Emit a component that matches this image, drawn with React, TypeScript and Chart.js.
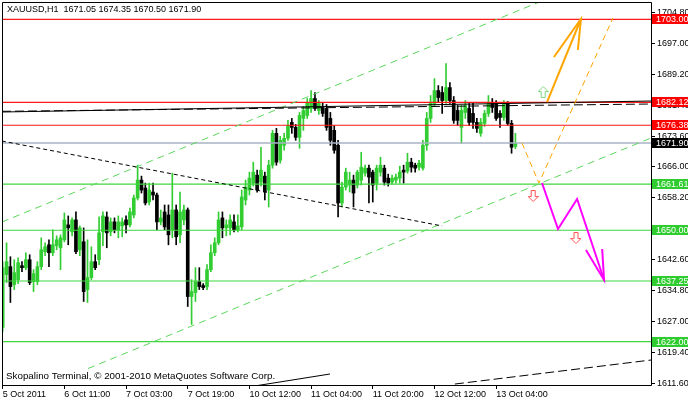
import React, { useEffect, useRef } from "react";
import { Chart, registerables } from "chart.js";

Chart.register(...registerables);

// ---------- DATA ----------
const symbol = "XAUUSD,H1";
const footerText = "Skopalino Terminal, \u00a9 2001-2010 MetaQuotes Software Corp.";

const xTickIndex = [0, 16, 32, 48, 64, 80, 96, 112, 128];
const xTickLabels = ["5 Oct 2011", "6 Oct 11:00", "7 Oct 03:00", "7 Oct 19:00", "10 Oct 12:00", "11 Oct 04:00", "11 Oct 20:00", "12 Oct 12:00", "13 Oct 04:00"];

const yTicks = [1611.6, 1619.4, 1627.0, 1634.8, 1642.6, 1650.4, 1658.2, 1666.0, 1673.6, 1681.4, 1689.2, 1697.0, 1704.8];

const open = [
  1625.6, 1638.85, 1640.85, 1636.35, 1637.6, 1641.1, 1640.6, 1642.6, 1637.1, 1637.1,
  1640.85, 1644.6, 1646.35, 1644.35, 1646.1, 1645.6, 1647.6, 1651.35, 1649.6, 1652.6,
  1645.1, 1647.1, 1635.1, 1638.1, 1642.1, 1642.6, 1649.6, 1653.35, 1649.6, 1652.1,
  1650.1, 1651.1, 1652.6, 1651.35, 1653.85, 1658.1, 1662.6, 1660.6, 1657.1, 1659.6,
  1658.85, 1652.1, 1654.6, 1653.85, 1650.1, 1655.1, 1648.85, 1652.6, 1655.1, 1633.35,
  1634.35, 1637.1, 1636.1, 1635.85, 1640.1, 1644.35, 1646.85, 1653.1, 1650.6, 1650.6,
  1652.1, 1650.1, 1650.85, 1657.6, 1660.1, 1661.85, 1663.85, 1662.1, 1663.6, 1660.1,
  1666.35, 1674.35, 1667.6, 1671.35, 1673.1, 1677.1, 1675.85, 1673.35, 1678.1, 1678.85,
  1680.6, 1683.1, 1680.1, 1680.85, 1680.6, 1678.1, 1675.1, 1671.35, 1656.85, 1660.85,
  1661.35, 1662.6, 1661.35, 1662.6, 1664.35, 1665.6, 1664.6, 1661.85, 1664.6, 1665.6,
  1663.1, 1662.1, 1662.6, 1663.1, 1665.1, 1664.85, 1667.1, 1666.35, 1665.85, 1665.6,
  1671.35, 1678.1, 1681.85, 1685.1, 1684.6, 1682.6, 1685.85, 1682.6, 1680.1, 1675.85,
  1679.6, 1680.6, 1679.35, 1677.1, 1674.35, 1676.85, 1679.35, 1682.1, 1681.85, 1679.35,
  1678.35, 1681.85, 1676.85, 1671.05
];
const high = [
  1642.1, 1646.85, 1643.35, 1642.6, 1643.1, 1642.1, 1644.35, 1643.85, 1640.1, 1642.1,
  1648.1, 1646.85, 1647.6, 1650.1, 1648.6, 1648.85, 1654.35, 1653.6, 1653.1, 1654.6,
  1651.1, 1650.6, 1647.6, 1645.85, 1643.85, 1653.35, 1654.6, 1654.6, 1653.1, 1653.1,
  1653.6, 1653.1, 1653.6, 1655.6, 1658.85, 1666.35, 1663.6, 1661.85, 1661.85, 1661.85,
  1659.35, 1655.1, 1656.35, 1656.35, 1664.35, 1656.35, 1659.6, 1656.35, 1655.6, 1637.6,
  1640.6, 1640.6, 1636.6, 1641.35, 1646.35, 1648.1, 1654.6, 1654.6, 1652.6, 1653.85,
  1653.85, 1653.85, 1660.1, 1662.6, 1664.6, 1667.1, 1665.1, 1670.85, 1664.6, 1667.6,
  1675.1, 1675.6, 1673.6, 1674.35, 1677.6, 1678.1, 1676.6, 1679.6, 1681.1, 1683.1,
  1685.1, 1684.6, 1682.6, 1682.1, 1681.6, 1679.6, 1676.35, 1672.6, 1662.1, 1665.6,
  1664.6, 1663.85, 1665.1, 1669.6, 1666.35, 1666.35, 1665.1, 1666.35, 1668.35, 1666.35,
  1664.1, 1663.85, 1664.1, 1666.1, 1666.35, 1669.35, 1668.1, 1666.85, 1667.6, 1672.6,
  1679.6, 1683.85, 1688.1, 1686.35, 1686.1, 1691.85, 1687.1, 1683.6, 1681.35, 1681.35,
  1682.6, 1681.85, 1682.1, 1678.1, 1678.1, 1680.1, 1683.85, 1683.1, 1682.6, 1680.1,
  1682.6, 1682.35, 1677.6, 1674.35
];
const low = [
  1624.6, 1636.85, 1631.85, 1635.1, 1636.6, 1639.6, 1640.1, 1636.35, 1634.6, 1636.35,
  1640.1, 1643.6, 1640.85, 1643.6, 1645.1, 1640.1, 1647.1, 1646.35, 1648.6, 1644.1,
  1643.6, 1632.1, 1631.85, 1637.6, 1640.1, 1641.35, 1646.1, 1645.6, 1648.6, 1649.35,
  1648.1, 1648.35, 1649.35, 1650.85, 1653.1, 1657.6, 1659.35, 1656.35, 1656.35, 1657.6,
  1650.1, 1651.35, 1650.1, 1646.35, 1648.1, 1646.35, 1646.85, 1651.35, 1630.85, 1626.35,
  1632.1, 1635.1, 1635.1, 1635.1, 1639.6, 1643.6, 1646.35, 1648.1, 1648.6, 1648.85,
  1649.6, 1649.6, 1650.1, 1656.35, 1658.85, 1661.1, 1659.6, 1661.1, 1657.6, 1655.85,
  1665.6, 1666.35, 1666.85, 1670.1, 1672.6, 1674.35, 1672.6, 1670.6, 1675.1, 1678.1,
  1679.6, 1680.1, 1679.1, 1678.6, 1675.1, 1671.35, 1669.35, 1653.35, 1655.85, 1660.1,
  1659.6, 1655.85, 1660.6, 1661.35, 1663.6, 1656.85, 1657.1, 1660.1, 1663.6, 1661.35,
  1661.1, 1661.6, 1661.85, 1661.85, 1661.85, 1664.35, 1664.6, 1664.6, 1665.1, 1665.1,
  1670.1, 1677.1, 1681.1, 1682.1, 1679.35, 1681.85, 1681.85, 1676.85, 1676.35, 1671.85,
  1678.1, 1676.35, 1675.6, 1674.6, 1673.6, 1676.1, 1678.6, 1679.6, 1677.6, 1675.85,
  1677.6, 1676.35, 1669.35, 1670.5
];
const close = [
  1640.6, 1642.1, 1635.85, 1639.35, 1641.85, 1640.6, 1642.6, 1636.85, 1639.1, 1640.85,
  1645.1, 1645.85, 1644.35, 1646.35, 1647.6, 1648.1, 1652.6, 1650.6, 1652.6, 1644.6,
  1650.6, 1634.6, 1638.1, 1642.1, 1640.6, 1649.35, 1653.6, 1649.35, 1652.1, 1650.1,
  1652.1, 1652.1, 1651.35, 1654.6, 1658.1, 1662.6, 1660.1, 1656.85, 1660.1, 1658.85,
  1652.1, 1653.1, 1650.85, 1648.85, 1655.1, 1648.35, 1654.6, 1655.1, 1633.35, 1634.6,
  1637.1, 1635.85, 1635.6, 1640.1, 1644.35, 1646.85, 1652.6, 1650.6, 1651.35, 1652.6,
  1650.1, 1651.1, 1658.35, 1660.85, 1663.1, 1664.6, 1660.1, 1665.1, 1659.6, 1666.35,
  1674.35, 1667.1, 1672.6, 1673.1, 1676.35, 1675.85, 1673.35, 1678.85, 1680.1, 1682.1,
  1683.1, 1680.6, 1681.85, 1679.35, 1675.85, 1672.6, 1670.1, 1656.85, 1660.85, 1664.6,
  1662.6, 1659.35, 1664.6, 1665.85, 1665.6, 1663.35, 1661.35, 1665.6, 1666.35, 1662.1,
  1661.85, 1663.1, 1663.35, 1664.6, 1664.6, 1667.1, 1665.85, 1665.6, 1666.85, 1671.35,
  1678.1, 1681.85, 1685.1, 1683.35, 1682.6, 1685.85, 1682.6, 1677.6, 1677.6, 1680.1,
  1681.35, 1677.1, 1677.1, 1675.6, 1677.1, 1679.35, 1681.85, 1680.85, 1678.1, 1678.35,
  1681.85, 1676.85, 1670.85, 1671.9
];

// horizontal levels
const resistanceLevels = [1703.0, 1682.12, 1676.38];
const supportLevels = [1661.61, 1650.0, 1637.25, 1622.0];
const bidLevel = 1671.9;

// trend objects: [bar index, price]
const blackTrendDown = [[-0.2, 1672.42], [114.0, 1651.07]];
const blackDashedResist = [[-0.2, 1679.88], [168.2, 1681.72]];
const blackSolidResist = [[-0.2, 1679.71], [168.2, 1682.47]];
const channelUpper = [[-0.2, 1652.07], [140, 1707.66]];
const channelLower = [[22.13, 1615.26], [168.2, 1673.19]];
const blackBottomSolid = [[66, 1610.97], [84.9, 1613.88]];
const blackBottomDashed = [[117.3, 1611.36], [168.2, 1617.4]];
const orangeSolid = [[141.2, 1682.22], [150.0, 1703.08]];
const orangeHead = [[143.0, 1693.53], [150.0, 1703.08], [149.2, 1695.29]];
const orangeDashed = [[134.7, 1671.92], [139.1, 1661.87], [158.3, 1703.33]];
const magentaPath = [[139.9, 1661.87], [144.05, 1650.31], [149.0, 1657.85], [156.0, 1637.5]];
const magentaHead = [[151.3, 1645.03], [156.0, 1637.5], [155.5, 1645.29]];
const upArrows = [[140.2, 1684.73]];
const downArrows = [[137.6, 1658.6], [148.7, 1648.05]];

// ---------- STYLE ----------
const FONT = "'Liberation Sans', Arial, sans-serif";
const BULL = "#32cd32";
const BEAR = "#000000";
const RED = "#ff1a1a";
const GREEN_LINE = "#3fd53f";
const X_MIN = -0.18;
const X_MAX = 168.17;
const Y_MIN = 1611.12;
const Y_MAX = 1707.1;

function makeArrow(up: boolean, color: string) {
  const c = document.createElement("canvas");
  c.width = 11;
  c.height = 12;
  const g = c.getContext("2d")!;
  const pts = [[5.5, 0.5], [10.5, 5.5], [7.5, 5.5], [7.5, 11.5], [3.5, 11.5], [3.5, 5.5], [0.5, 5.5]];
  g.beginPath();
  pts.forEach(([x, y], i) => {
    const yy = up ? y : 12 - y;
    if (i === 0) g.moveTo(x, yy);
    else g.lineTo(x, yy);
  });
  g.closePath();
  g.fillStyle = "#ffffff";
  g.fill();
  g.strokeStyle = color;
  g.lineWidth = 1;
  g.stroke();
  return c;
}

function lineDs(points: number[][], color: string, width: number, dash: number[], order: number) {
  return {
    type: "line" as const,
    data: points.map(([x, y]) => ({ x, y })),
    borderColor: color,
    borderWidth: width,
    borderDash: dash,
    pointRadius: 0,
    fill: false,
    tension: 0,
    order,
  };
}

const overlayPlugin = {
  id: "mt4overlay",
  afterDraw(chart: any) {
    const { ctx, chartArea: a } = chart;
    const y = chart.scales.y;
    ctx.save();
    ctx.strokeStyle = "#000";
    ctx.lineWidth = 1;
    ctx.beginPath();
    ctx.moveTo(a.left + 0.5, a.bottom + 0.5);
    ctx.lineTo(a.left + 0.5, a.top - 0.5);
    ctx.lineTo(a.right + 0.5, a.top - 0.5);
    ctx.lineTo(a.right + 0.5, a.bottom + 0.5);
    ctx.closePath();
    ctx.stroke();

    const boxes: [number, string][] = [
      ...resistanceLevels.map((v) => [v, "#ff0000"] as [number, string]),
      [bidLevel, "#000000"],
      ...supportLevels.map((v) => [v, "#2ecc2e"] as [number, string]),
    ];
    ctx.font = `9px ${FONT}`;
    ctx.textBaseline = "middle";
    ctx.textAlign = "left";
    boxes.forEach(([v, col]) => {
      const py = Math.round(y.getPixelForValue(v));
      ctx.fillStyle = col;
      ctx.fillRect(a.right + 1, py - 5, 40, 10);
      ctx.fillStyle = "#ffffff";
      ctx.fillText(v.toFixed(2), a.right + 5, py + 0.5);
    });

    const last = open.length - 1;
    const title = `${symbol}  ${open[last].toFixed(2)} ${high[last].toFixed(2)} ${low[last].toFixed(2)} ${close[last].toFixed(2)}`;
    ctx.fillStyle = "#000";
    ctx.fillText(title, 7, 10);
    ctx.font = `9.8px ${FONT}`;
    ctx.fillText(footerText, 6, 376);
    ctx.restore();
  },
};

export default function App() {
  const ref = useRef<HTMLCanvasElement>(null);
  useEffect(() => {
    if (!ref.current) return;
    const idx = open.map((_, i) => i);
    const bull = idx.map((i) => close[i] >= open[i]);
    const upImg = makeArrow(true, "#7ed87e");
    const downImg = makeArrow(false, "#ff5050");

    const datasets: any[] = [
      {
        type: "line",
        data: upArrows.map(([x, y]) => ({ x, y })),
        showLine: false,
        pointStyle: upImg,
        pointRadius: 6,
        order: 0,
      },
      {
        type: "line",
        data: downArrows.map(([x, y]) => ({ x, y })),
        showLine: false,
        pointStyle: downImg,
        pointRadius: 6,
        order: 0,
      },
      lineDs(magentaPath, "#ff00ff", 2, [], 1),
      lineDs(magentaHead, "#ff00ff", 2, [], 1),
      lineDs(orangeSolid, "#ffa500", 2, [], 1),
      lineDs(orangeHead, "#ffa500", 2, [], 1),
      lineDs(orangeDashed, "#ffa500", 1, [6, 4], 1),
      lineDs(blackTrendDown, "#000", 1, [4, 3], 2),
      lineDs(blackDashedResist, "#000", 1, [9, 4], 2),
      lineDs(blackSolidResist, "#000", 1, [], 2),
      lineDs(blackBottomSolid, "#000", 1, [], 2),
      lineDs(blackBottomDashed, "#000", 1, [9, 4], 2),
      lineDs(channelUpper, "#5cd65c", 1, [7, 5], 2),
      lineDs(channelLower, "#5cd65c", 1, [7, 5], 2),
      ...resistanceLevels.map((v) => lineDs([[X_MIN, v], [X_MAX, v]], RED, 1.2, [], 3)),
      ...supportLevels.map((v) => lineDs([[X_MIN, v], [X_MAX, v]], GREEN_LINE, 1.2, [], 3)),
      lineDs([[X_MIN, bidLevel], [X_MAX, bidLevel]], "#a8b2c4", 1.5, [], 3),
      {
        type: "bar",
        data: idx.map((i) => ({ x: i, y: [Math.min(open[i], close[i]), Math.max(open[i], close[i])] })),
        backgroundColor: idx.map((i) => (bull[i] ? BULL : BEAR)),
        borderWidth: 0,
        barThickness: 3,
        minBarLength: 1,
        grouped: false,
        order: 5,
      },
      {
        type: "bar",
        data: idx.map((i) => ({ x: i, y: [low[i], high[i]] })),
        backgroundColor: idx.map((i) => (bull[i] ? BULL : BEAR)),
        borderWidth: 0,
        barThickness: 1,
        grouped: false,
        order: 6,
      },
    ];

    const chart = new Chart(ref.current, {
      type: "bar",
      data: { datasets },
      plugins: [overlayPlugin],
      options: {
        animation: false,
        responsive: false,
        devicePixelRatio: 1,
        events: [],
        layout: { autoPadding: false, padding: { left: 2, top: 3, right: 0, bottom: 0 } },
        font: { family: FONT, size: 9 },
        plugins: { legend: { display: false }, tooltip: { enabled: false } },
        scales: {
          x: {
            type: "linear",
            min: X_MIN,
            max: X_MAX,
            offset: false,
            afterBuildTicks: (s: any) => {
              s.ticks = xTickIndex.map((v) => ({ value: v }));
            },
            afterFit: (s: any) => {
              s.height = 16;
              s.paddingLeft = 0;
              s.paddingRight = 0;
            },
            grid: { offset: false, drawOnChartArea: false, drawTicks: true, tickLength: 4, color: "#000" },
            border: { display: false },
            ticks: {
              autoSkip: false,
              maxRotation: 0,
              minRotation: 0,
              align: "start",
              padding: 0,
              color: "#000",
              font: { family: FONT, size: 9 },
              callback: (_v: any, i: number) => xTickLabels[i],
            },
          },
          y: {
            type: "linear",
            position: "right",
            min: Y_MIN,
            max: Y_MAX,
            afterBuildTicks: (s: any) => {
              s.ticks = yTicks.map((v) => ({ value: v }));
            },
            afterFit: (s: any) => {
              s.width = 37;
              s.paddingTop = 0;
              s.paddingBottom = 0;
            },
            grid: { drawOnChartArea: false, drawTicks: true, tickLength: 4, color: "#000" },
            border: { display: false },
            ticks: {
              autoSkip: false,
              padding: 2,
              color: "#000",
              font: { family: FONT, size: 9 },
              callback: (v: any) => Number(v).toFixed(2),
            },
          },
        },
      } as any,
    });
    return () => chart.destroy();
  }, []);

  return (
    <div style={{ position: "absolute", left: 0, top: 0, width: 688, height: 401, background: "#fff" }}>
      <canvas ref={ref} width={688} height={401} style={{ display: "block" }} />
    </div>
  );
}
